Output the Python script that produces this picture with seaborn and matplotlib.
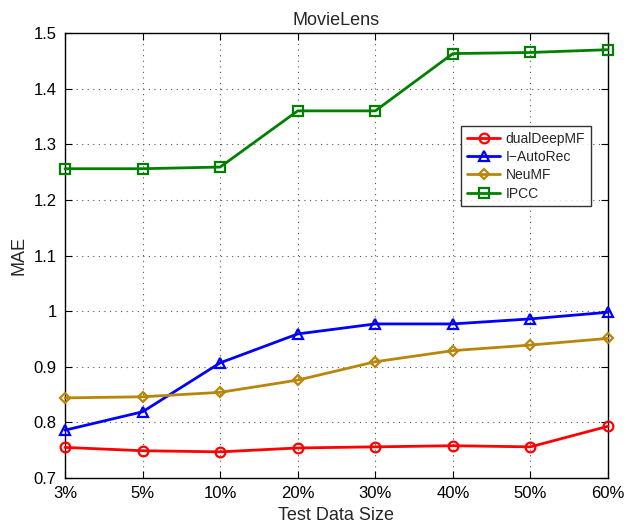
import numpy as np
import pandas as pd
import matplotlib
matplotlib.use("Agg")
import matplotlib.pyplot as plt
import seaborn as sns

# ---------------------------------------------------------
# DATA
# ---------------------------------------------------------
test_sizes = ["3%", "5%", "10%", "20%", "30%", "40%", "50%", "60%"]

dual_deep_mf = [0.755, 0.749, 0.747, 0.754, 0.756, 0.758, 0.756, 0.793]
i_autorec = [0.786, 0.819, 0.907, 0.959, 0.977, 0.977, 0.986, 0.998]
neumf = [0.844, 0.846, 0.854, 0.876, 0.909, 0.929, 0.939, 0.951]
ipcc = [1.256, 1.256, 1.259, 1.360, 1.360, 1.463, 1.465, 1.470]

methods = ["dualDeepMF", "I\u2212AutoRec", "NeuMF", "IPCC"]
series = [dual_deep_mf, i_autorec, neumf, ipcc]

palette = {
    "dualDeepMF": "#ff0000",
    "I\u2212AutoRec": "#0000ff",
    "NeuMF": "#b8860b",
    "IPCC": "#008000",
}
markers = {
    "dualDeepMF": "o",
    "I\u2212AutoRec": "^",
    "NeuMF": "D",
    "IPCC": "s",
}
msizes = {"dualDeepMF": 7, "I\u2212AutoRec": 7.5, "NeuMF": 5.5, "IPCC": 7}

rows = []
for name, vals in zip(methods, series):
    for i, (size, v) in enumerate(zip(test_sizes, vals)):
        rows.append({"method": name, "pos": i, "size": size, "mae": v})
df = pd.DataFrame(rows)

# ---------------------------------------------------------
# PLOT
# ---------------------------------------------------------
sns.set_style("ticks")
plt.rcParams["font.family"] = ["Liberation Sans", "DejaVu Sans"]

fig = plt.figure(figsize=(6.27, 5.30), dpi=100)
ax = fig.add_axes([65 / 627, 1 - 478 / 530, (608 - 65) / 627, (478 - 33) / 530])

for name in methods:
    d = df[df["method"] == name]
    sns.lineplot(
        data=d, x="pos", y="mae",
        color=palette[name], marker=markers[name],
        markersize=msizes[name], markerfacecolor="none",
        markeredgecolor=palette[name], markeredgewidth=1.6,
        linewidth=2, label=name, ax=ax, clip_on=False, zorder=3,
    )

ax.set_xlim(0, len(test_sizes) - 1)
ax.set_ylim(0.7, 1.5)
ax.set_xticks(range(len(test_sizes)))
ax.set_xticklabels(test_sizes)
ax.set_yticks([0.7, 0.8, 0.9, 1.0, 1.1, 1.2, 1.3, 1.4, 1.5])
ax.set_yticklabels(["0.7", "0.8", "0.9", "1", "1.1", "1.2", "1.3", "1.4", "1.5"])
ax.tick_params(direction="in", top=True, right=True, length=5,
               labelsize=12, colors="black", pad=6)
ax.grid(True, linestyle=(0, (1, 4)), color="#555555", linewidth=0.8)
for sp in ax.spines.values():
    sp.set_color("black")
    sp.set_linewidth(1.0)

ax.set_xlabel("Test Data Size", fontsize=13)
ax.set_ylabel("MAE", fontsize=13)
ax.set_title("MovieLens", fontsize=13)

leg = ax.legend(loc="upper left", bbox_to_anchor=(0.73, 0.79),
                fontsize=10, frameon=True, fancybox=False,
                borderpad=0.4, labelspacing=0.3, handlelength=2.4,
                handletextpad=0.4, borderaxespad=0)
leg.get_frame().set_edgecolor("black")
leg.get_frame().set_linewidth(1.0)
leg.set_zorder(5)

fig.savefig("out.png", dpi=100)
